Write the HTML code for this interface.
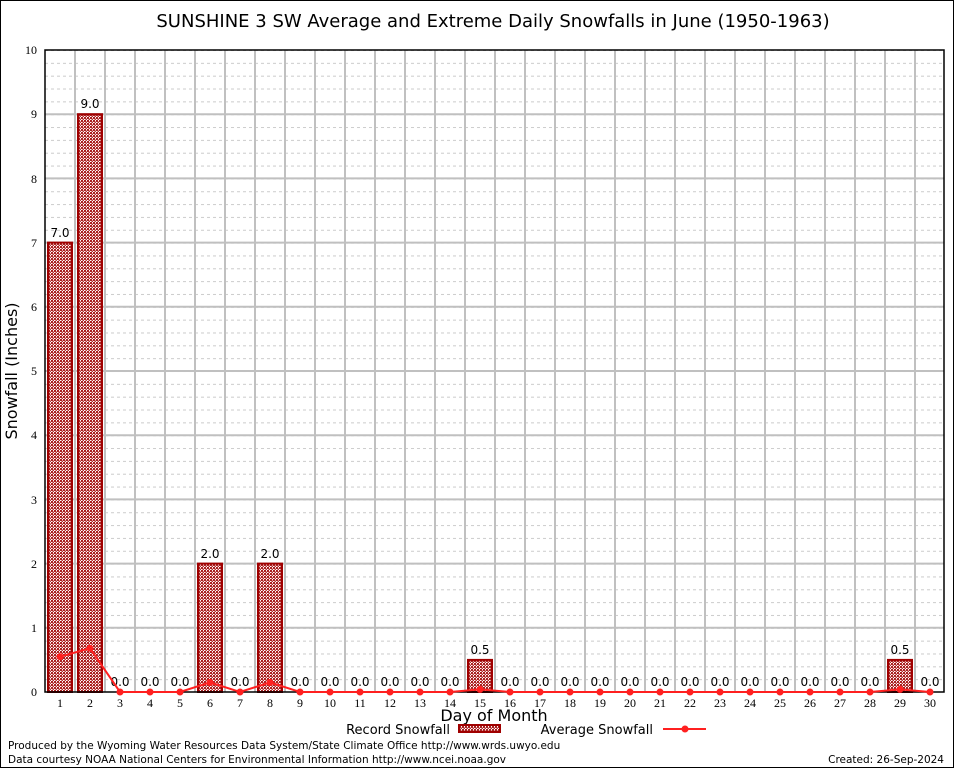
<!DOCTYPE html>
<html><head><meta charset="utf-8"><style>body{margin:0;background:#fff}svg{display:block}</style></head><body>
<svg width="954" height="768" xmlns="http://www.w3.org/2000/svg" font-family="DejaVu Sans, Liberation Sans, sans-serif">
<defs>
<pattern id="dash" x="45" y="50" width="6" height="12.84" patternUnits="userSpaceOnUse"><rect x="0" y="0" width="3" height="1" fill="#cccccc"/></pattern>
<pattern id="chk" x="0" y="0" width="3" height="3" patternUnits="userSpaceOnUse"><rect width="3" height="3" fill="#fff"/><rect width="2" height="2" fill="#a82020"/><rect x="1.5" y="1.5" width="1.5" height="1.5" fill="#b83030"/></pattern>
</defs>
<rect x="0.5" y="0.5" width="953" height="767" fill="#fff" stroke="#000"/>
<text x="493" y="27" font-size="18" text-anchor="middle">SUNSHINE 3 SW Average and Extreme Daily Snowfalls in June (1950-1963)</text>
<rect x="45" y="50" width="899" height="642" fill="url(#dash)"/>
<g stroke="#c0c0c0" stroke-width="2">
<path d="M45 627.8H944M45 563.6H944M45 499.4H944M45 435.2H944M45 371H944M45 306.8H944M45 242.6H944M45 178.4H944M45 114.2H944"/>
<path d="M75 50V692M105 50V692M135 50V692M165 50V692M195 50V692M225 50V692M255 50V692M285 50V692M315 50V692M345 50V692M375 50V692M405 50V692M435 50V692M465 50V692M495 50V692M525 50V692M555 50V692M585 50V692M615 50V692M645 50V692M675 50V692M705 50V692M735 50V692M765 50V692M795 50V692M825 50V692M855 50V692M885 50V692M915 50V692"/>
</g>
<g fill="url(#chk)" stroke="#a00000" stroke-width="2">
<rect x="48" y="242.6" width="24" height="449.4"/>
<rect x="78" y="114.2" width="24" height="577.8"/>
<rect x="198" y="563.6" width="24" height="128.4"/>
<rect x="258" y="563.6" width="24" height="128.4"/>
<rect x="468" y="659.9" width="24" height="32.1"/>
<rect x="888" y="659.9" width="24" height="32.1"/>
</g>
<rect x="45" y="50" width="899" height="642" fill="none" stroke="#000" stroke-width="1.5"/>
<g font-size="12" text-anchor="middle" fill="#000">
<text x="60" y="237">7.0</text><text x="90" y="108">9.0</text><text x="210" y="558">2.0</text><text x="270" y="558">2.0</text><text x="480" y="654">0.5</text><text x="900" y="654">0.5</text>
<text x="120" y="686">0.0</text><text x="150" y="686">0.0</text><text x="180" y="686">0.0</text><text x="240" y="686">0.0</text><text x="300" y="686">0.0</text><text x="330" y="686">0.0</text><text x="360" y="686">0.0</text><text x="390" y="686">0.0</text><text x="420" y="686">0.0</text><text x="450" y="686">0.0</text><text x="510" y="686">0.0</text><text x="540" y="686">0.0</text><text x="570" y="686">0.0</text><text x="600" y="686">0.0</text><text x="630" y="686">0.0</text><text x="660" y="686">0.0</text><text x="690" y="686">0.0</text><text x="720" y="686">0.0</text><text x="750" y="686">0.0</text><text x="780" y="686">0.0</text><text x="810" y="686">0.0</text><text x="840" y="686">0.0</text><text x="870" y="686">0.0</text><text x="930" y="686">0.0</text>
</g>
<polyline fill="none" stroke="#ff2020" stroke-width="2" points="60,656.7 90,648.3 120,692 150,692 180,692 210,682.4 240,692 270,682.4 300,692 330,692 360,692 390,692 420,692 450,692 480,689.4 510,692 540,692 570,692 600,692 630,692 660,692 690,692 720,692 750,692 780,692 810,692 840,692 870,692 900,689.4 930,692"/>
<g fill="#ff2020">
<circle cx="60" cy="656.7" r="3.5"/><circle cx="90" cy="648.3" r="3.5"/><circle cx="120" cy="692" r="3.5"/><circle cx="150" cy="692" r="3.5"/><circle cx="180" cy="692" r="3.5"/><circle cx="210" cy="682.4" r="3.5"/><circle cx="240" cy="692" r="3.5"/><circle cx="270" cy="682.4" r="3.5"/><circle cx="300" cy="692" r="3.5"/><circle cx="330" cy="692" r="3.5"/><circle cx="360" cy="692" r="3.5"/><circle cx="390" cy="692" r="3.5"/><circle cx="420" cy="692" r="3.5"/><circle cx="450" cy="692" r="3.5"/><circle cx="480" cy="689.4" r="3.5"/><circle cx="510" cy="692" r="3.5"/><circle cx="540" cy="692" r="3.5"/><circle cx="570" cy="692" r="3.5"/><circle cx="600" cy="692" r="3.5"/><circle cx="630" cy="692" r="3.5"/><circle cx="660" cy="692" r="3.5"/><circle cx="690" cy="692" r="3.5"/><circle cx="720" cy="692" r="3.5"/><circle cx="750" cy="692" r="3.5"/><circle cx="780" cy="692" r="3.5"/><circle cx="810" cy="692" r="3.5"/><circle cx="840" cy="692" r="3.5"/><circle cx="870" cy="692" r="3.5"/><circle cx="900" cy="689.4" r="3.5"/><circle cx="930" cy="692" r="3.5"/>
</g>
<g font-family="Liberation Serif, DejaVu Serif, serif" font-size="12" text-anchor="middle">
<text x="60" y="707">1</text><text x="90" y="707">2</text><text x="120" y="707">3</text><text x="150" y="707">4</text><text x="180" y="707">5</text><text x="210" y="707">6</text><text x="240" y="707">7</text><text x="270" y="707">8</text><text x="300" y="707">9</text><text x="330" y="707">10</text><text x="360" y="707">11</text><text x="390" y="707">12</text><text x="420" y="707">13</text><text x="450" y="707">14</text><text x="480" y="707">15</text><text x="510" y="707">16</text><text x="540" y="707">17</text><text x="570" y="707">18</text><text x="600" y="707">19</text><text x="630" y="707">20</text><text x="660" y="707">21</text><text x="690" y="707">22</text><text x="720" y="707">23</text><text x="750" y="707">24</text><text x="780" y="707">25</text><text x="810" y="707">26</text><text x="840" y="707">27</text><text x="870" y="707">28</text><text x="900" y="707">29</text><text x="930" y="707">30</text>
</g>
<g font-family="Liberation Serif, DejaVu Serif, serif" font-size="12" text-anchor="end">
<text x="37" y="696">0</text><text x="37" y="632">1</text><text x="37" y="568">2</text><text x="37" y="504">3</text><text x="37" y="439">4</text><text x="37" y="375">5</text><text x="37" y="311">6</text><text x="37" y="247">7</text><text x="37" y="183">8</text><text x="37" y="118">9</text><text x="37" y="54">10</text>
</g>
<text x="17" y="371" font-size="16" text-anchor="middle" transform="rotate(-90 17 371)">Snowfall (Inches)</text>
<text x="494" y="721" font-size="16" text-anchor="middle">Day of Month</text>
<text x="450" y="734" font-size="13" text-anchor="end">Record Snowfall</text>
<rect x="459" y="725" width="41" height="7" fill="url(#chk)" stroke="#a00000" stroke-width="2"/>
<text x="653" y="734" font-size="13" text-anchor="end">Average Snowfall</text>
<line x1="663" y1="729" x2="706" y2="729" stroke="#ff2020" stroke-width="2"/><circle cx="685" cy="729" r="3.5" fill="#ff2020"/>
<text x="8" y="749" font-size="10.5">Produced by the Wyoming Water Resources Data System/State Climate Office http://www.wrds.uwyo.edu</text>
<text x="8" y="763" font-size="10.5">Data courtesy NOAA National Centers for Environmental Information http://www.ncei.noaa.gov</text>
<text x="944" y="763" font-size="10.5" text-anchor="end">Created:  26-Sep-2024</text>
</svg>
</body></html>
